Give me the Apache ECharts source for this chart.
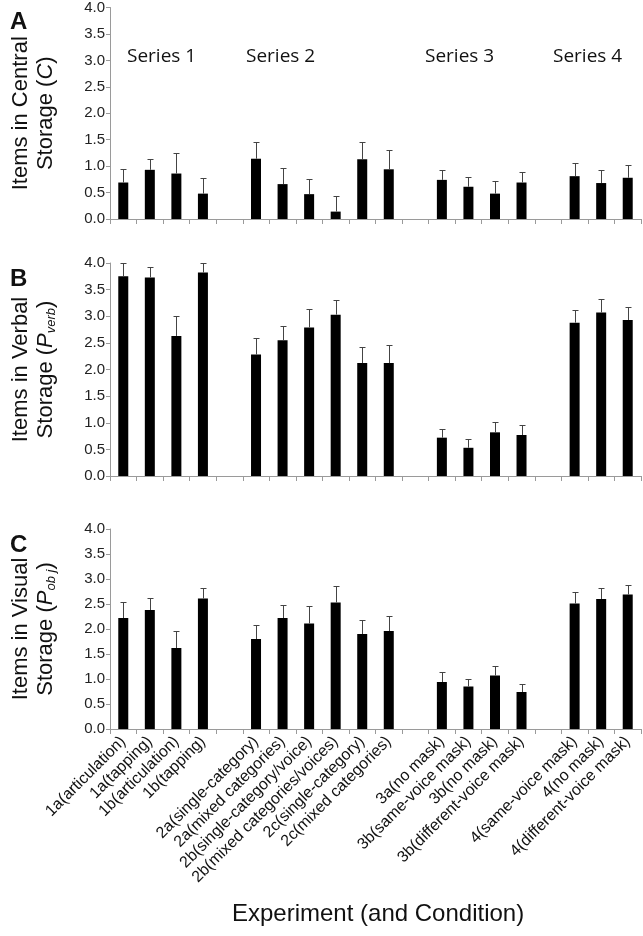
<!DOCTYPE html>
<html>
<head>
<meta charset="utf-8">
<script src="https://cdn.jsdelivr.net/npm/echarts@6/dist/echarts.min.js"></script>
<style>html,body{margin:0;padding:0;background:#fff;}#c{width:643px;height:936px;}</style>
</head>
<body>
<div id="c"></div>
<script>
// Categories (empty strings are the gaps between experiment series)
const categories = [
  '1a(articulation)', '1a(tapping)', '1b(articulation)', '1b(tapping)', '',
  '2a(single-category)', '2a(mixed categories)', '2b(single-category/voice)',
  '2b(mixed categories/voices)', '2c(single-category)', '2c(mixed categories)', '',
  '3a(no mask)', '3b(same-voice mask)', '3b(no mask)', '3b(different-voice mask)', '',
  '4(same-voice mask)', '4(no mask)', '4(different-voice mask)'
];
const seriesLabels = ['Series 1', 'Series 2', 'Series 3', 'Series 4'];

// Panel A: items in central storage (C)
const centralMean  = [0.69, 0.93, 0.86, 0.48, null, 1.14, 0.66, 0.47, 0.14, 1.13, 0.94, null, 0.74, 0.61, 0.48, 0.69, null, 0.81, 0.68, 0.78];
const centralUpper = [0.94, 1.14, 1.25, 0.77, null, 1.45, 0.96, 0.76, 0.43, 1.45, 1.31, null, 0.92, 0.79, 0.71, 0.89, null, 1.06, 0.93, 1.03];
// Panel B: items in verbal storage (P_verb)
const verbalMean  = [3.75, 3.73, 2.63, 3.82, null, 2.28, 2.55, 2.79, 3.03, 2.12, 2.12, null, 0.72, 0.53, 0.82, 0.77, null, 2.88, 3.07, 2.93];
const verbalUpper = [4.00, 3.92, 3.00, 4.00, null, 2.59, 2.82, 3.14, 3.30, 2.42, 2.46, null, 0.88, 0.69, 1.02, 0.95, null, 3.11, 3.32, 3.17];
// Panel C: items in visual storage (P_obj)
const visualMean  = [2.22, 2.38, 1.62, 2.61, null, 1.80, 2.22, 2.11, 2.53, 1.90, 1.96, null, 0.94, 0.85, 1.07, 0.74, null, 2.51, 2.60, 2.69];
const visualUpper = [2.55, 2.63, 1.97, 2.83, null, 2.09, 2.49, 2.46, 2.86, 2.18, 2.27, null, 1.15, 1.01, 1.27, 0.91, null, 2.75, 2.83, 2.89];

const FONT = '"Liberation Sans", Arial, sans-serif';
const panels = [
  { top: 6,   height: 213, name: '{n|Items in Central}\n{n|Storage (}{i|C}{n|)}', mean: centralMean, upper: centralUpper, letter: 'A' },
  { top: 263, height: 213, name: '{n|Items in Verbal}\n{n|Storage (}{i|P}{sub|verb}{n|)}', mean: verbalMean, upper: verbalUpper, letter: 'B' },
  { top: 529, height: 200, name: '{n|Items in Visual}\n{n|Storage (}{i|P}{sub|ob j}{n|)}', mean: visualMean, upper: visualUpper, letter: 'C' }
];

const grids = [], xAxes = [], yAxes = [], series = [], graphics = [];
panels.forEach((p, k) => {
  grids.push({ left: 105, right: 2, top: p.top, height: p.height });
  xAxes.push({
    type: 'category', gridIndex: k, data: categories,
    axisLine: { lineStyle: { color: '#9a9a9a', width: 1 } },
    axisTick: { show: true, interval: 0, length: 5, lineStyle: { color: '#9a9a9a' } },
    axisLabel: k === 2 ? { show: true, interval: 0, rotate: 45, fontSize: 16, color: '#111', fontFamily: FONT, margin: 10 } : { show: false }
  });
  yAxes.push({
    type: 'value', gridIndex: k, min: 0, max: 4, interval: 0.5,
    name: p.name, nameLocation: 'middle', nameRotate: 90, nameGap: 52,
    nameTextStyle: {
      fontFamily: FONT, color: '#111', lineHeight: 25,
      rich: {
        n: { fontSize: 22, fontFamily: FONT, color: '#111', lineHeight: 25 },
        i: { fontSize: 22, fontFamily: FONT, fontStyle: 'italic', color: '#111', lineHeight: 25 },
        sub: { fontSize: 13, fontFamily: FONT, fontStyle: 'italic', color: '#111', verticalAlign: 'bottom', lineHeight: 25, padding: [8, 0, 0, 0] }
      }
    },
    axisLine: { show: true, lineStyle: { color: '#9a9a9a', width: 1 } },
    axisTick: { show: true, length: 4, lineStyle: { color: '#9a9a9a' } },
    splitLine: { show: false },
    axisLabel: { fontSize: 15, color: '#222', fontFamily: FONT, margin: 5, formatter: v => v.toFixed(1) }
  });
  series.push({
    type: 'bar', xAxisIndex: k, yAxisIndex: k, data: p.mean, barWidth: 10,
    itemStyle: { color: '#000' }, silent: true
  });
  const errData = [];
  p.mean.forEach((m, i) => { if (m !== null) errData.push([i, m, p.upper[i]]); });
  series.push({
    type: 'custom', xAxisIndex: k, yAxisIndex: k, data: errData, z: 5, silent: true,
    renderItem: function (params, api) {
      const a = api.coord([api.value(0), api.value(1)]);
      const b = api.coord([api.value(0), api.value(2)]);
      const x = Math.round(a[0]) + 0.5;
      const yb = Math.round(b[1]) + 0.5;
      return {
        type: 'group', children: [
          { type: 'line', shape: { x1: x, y1: a[1], x2: x, y2: yb }, style: { stroke: '#444', lineWidth: 1 } },
          { type: 'line', shape: { x1: x - 3, y1: yb, x2: x + 3, y2: yb }, style: { stroke: '#444', lineWidth: 1 } }
        ]
      };
    }
  });
  graphics.push({ type: 'text', left: 10, top: p.top + 4, style: { text: p.letter, font: 'bold 24px ' + FONT, fill: '#111' } });
});

// Series labels in panel A
const seriesLabelX = [127, 246, 425, 553];
seriesLabels.forEach((s, i) => {
  graphics.push({ type: 'text', left: seriesLabelX[i], top: 47, style: { text: s, font: '19px "Open Sans", Lato, sans-serif', fill: '#111' } });
});
graphics.push({ type: 'text', left: 232, top: 902, style: { text: 'Experiment (and Condition)', font: '24px ' + FONT, fill: '#111' } });

const chart = echarts.init(document.getElementById('c'), null, { renderer: 'canvas' });
chart.setOption({
  animation: false,
  backgroundColor: '#fff',
  grid: grids, xAxis: xAxes, yAxis: yAxes, series: series, graphic: graphics
});
</script>
</body>
</html>
